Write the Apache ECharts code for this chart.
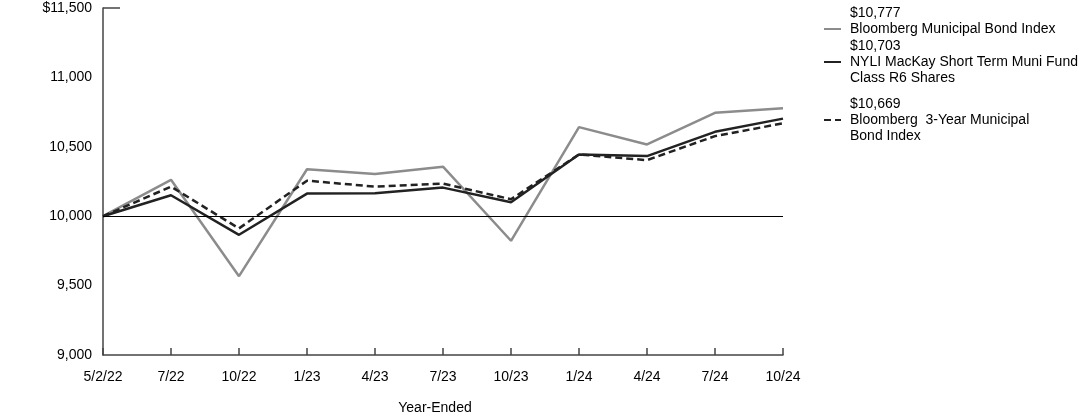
<!DOCTYPE html>
<html>
<head>
<meta charset="utf-8">
<script src="https://cdn.jsdelivr.net/npm/echarts@6/dist/echarts.min.js"></script>
<style>html,body{margin:0;padding:0;background:#fff}#c{width:1092px;height:417px}</style>
</head>
<body>
<div id="c"></div>
<script>
const categories = ['5/2/22','7/22','10/22','1/23','4/23','7/23','10/23','1/24','4/24','7/24','10/24'];
const muniIndex = [10000,10262,9568,10338,10304,10357,9823,10642,10517,10745,10777];
const fund = [10000,10151,9866,10163,10165,10206,10100,10445,10433,10608,10703];
const threeYear = [10000,10213,9912,10256,10213,10235,10122,10445,10404,10577,10669];
const seriesNames = ['Bloomberg Municipal Bond Index','NYLI MacKay Short Term Muni Fund\nClass R6 Shares','Bloomberg  3-Year Municipal\nBond Index'];
const endValues = ['$10,777','$10,703','$10,669'];
const yTicks = [9000,9500,10000,10500,11000,11500];
const xAxisTitle = 'Year-Ended';

const font = '"Liberation Sans", Arial, Helvetica, sans-serif';
const chart = echarts.init(document.getElementById('c'), null, {renderer:'canvas'});

function fmt(v){ return v.toLocaleString('en-US'); }

function legendFor(i, top){
  const lines = seriesNames[i].split('\n');
  let label = endValues[i] + '\n' + seriesNames[i];
  if (lines.length === 1) label += '\n ';
  return {
    data:[{name: seriesNames[i]}],
    left: 823, top: top, padding: 0,
    orient:'vertical',
    itemWidth: 17, itemHeight: 14,
    selectedMode:false,
    itemStyle:{color:'transparent', borderColor:'transparent', borderWidth:0},
    formatter: function(){ return label; },
    textStyle:{fontFamily:font, fontSize:14, color:'#000', lineHeight:16, padding:[0,0,0,4]}
  };
}

const option = {
  animation:false,
  textStyle:{fontFamily:font},
  grid:{left:103, right:309, top:8, bottom:62, containLabel:false, outerBoundsMode:'none'},
  legend:[legendFor(0,5), legendFor(1,38), legendFor(2,96)],
  xAxis:{
    type:'category', data:categories, boundaryGap:false,
    axisLine:{lineStyle:{color:'#444', width:1.5}},
    axisTick:{inside:true, length:7, lineStyle:{color:'#444', width:1.5}},
    axisLabel:{fontFamily:font, fontSize:14, color:'#000', margin:15},
    name: xAxisTitle, nameLocation:'middle', nameGap:46,
    nameTextStyle:{fontFamily:font, fontSize:14, color:'#000', padding:[0,16,0,0]}
  },
  yAxis:{
    type:'value', min:yTicks[0], max:yTicks[yTicks.length-1], interval:500,
    axisLine:{show:true, lineStyle:{color:'#444', width:1.5}},
    axisTick:{show:false},
    splitLine:{show:false},
    axisLabel:{fontFamily:font, fontSize:14, color:'#000', margin:11,
      formatter:function(v){ return (v===yTicks[yTicks.length-1] ? '$' : '') + fmt(v); }}
  },
  series:[
    {name:seriesNames[0], type:'line', data:muniIndex, symbol:'none',
     lineStyle:{color:'#8c8c8c', width:2.5}, itemStyle:{color:'#8c8c8c'}, z:2,
     markLine:{silent:true, symbol:'none', label:{show:false},
       lineStyle:{color:'#000', width:1, type:'solid'}, data:[{yAxis:10000}]}},
    {name:seriesNames[1], type:'line', data:fund, symbol:'none',
     lineStyle:{color:'#222', width:2.5}, itemStyle:{color:'#222'}, z:4},
    {name:seriesNames[2], type:'line', data:threeYear, symbol:'none',
     lineStyle:{color:'#222', width:2.5, type:[7,4]}, itemStyle:{color:'#222'}, z:3}
  ]
};
chart.setOption(option);

const p = chart.convertToPixel({gridIndex:0}, [0, yTicks[yTicks.length-1]]);
chart.setOption({graphic:[{type:'line', shape:{x1:p[0], y1:p[1], x2:p[0]+17, y2:p[1]},
  style:{stroke:'#444', lineWidth:1.5}}]});
</script>
</body>
</html>
